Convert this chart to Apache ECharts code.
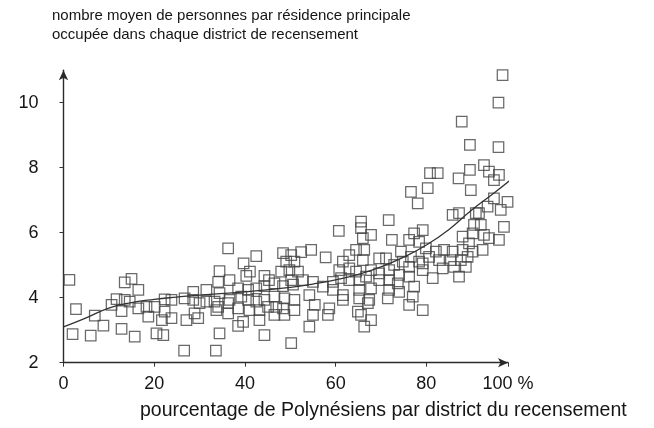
<!DOCTYPE html>
<html><head><meta charset="utf-8">
<script src="https://cdn.jsdelivr.net/npm/echarts@6/dist/echarts.min.js"></script>
<style>html,body{margin:0;padding:0;background:#fff}#c{width:654px;height:428px}</style>
</head><body><div id="c"></div>
<script>
// percentage of Polynesians per census district
const pctPolynesian = [
 1.3,2.75,2.0,6.0,6.9,8.8,10.6,11.7,12.8,12.8,13.5,15.0,16.5,14.6,15.7,16.5,18.3,18.7,20.1,20.5,22.0,22.3,22.3,23.8,23.8,21.7,13.5,26.6,
 36.3,42.5,39.7,41.1,34.4,40.3,44.3,45.3,48.4,50.2,49.1,50.9,48.0,49.8,51.7,50.2,34.4,44.3,50.2,33.6,28.6,31.5,26.7,28.6,30.0,31.5,33.3,34.1,36.3,36.6,34.1,38.5,40.7,42.5,44.3,46.5,34.4,36.6,39.2,40.7,42.5,44.3,46.5,48.7,50.9,28.9,33.7,36.3,38.5,41.0,43.2,45.1,46.9,48.4,50.9,27.1,29.7,39.6,43.2,46.5,48.7,38.5,48.4,50.6,
 52.4,54.6,57.8,76.6,78.1,60.7,65.6,65.6,71.7,67.8,66.0,72.4,61.6,63.0,64.5,66.3,66.0,69.6,71.1,74.4,76.2,77.3,76.6,74.8,72.9,76.2,60.8,63.0,64.5,67.8,69.6,71.8,74.0,76.2,59.4,61.2,63.0,65.2,66.7,69.6,71.8,73.7,77.3,52.8,55.0,57.2,59.4,61.6,65.2,67.8,71.8,74.0,77.0,54.2,55.4,58.6,61.6,65.2,67.4,71.5,76.2,55.0,58.3,64.9,65.6,67.8,67.1,66.3,54.2,78.4,79.2,78.4,
 80.3,96.8,95.9,87.8,89.6,95.9,80.8,82.5,87.1,89.6,89.8,92.7,93.8,96.0,94.9,97.9,96.4,93.5,94.9,90.9,87.2,85.8,90.5,92.0,92.7,90.2,97.1,96.0,93.8,88.0,89.4,88.0,85.8,83.9,82.1,79.9,80.6,82.8,85.4,87.6,89.1,90.2,92.4,86.1,88.7,87.2,83.6,81.4,79.2,79.2,79.2,91.6
];
// average number of persons per occupied main residence
const personsPerHome = [
 4.55,3.65,2.88,2.83,3.45,3.14,3.78,3.96,3.59,3.04,4.47,4.58,4.24,3.88,2.8,3.67,3.72,3.42,3.72,2.9,2.85,3.95,3.57,3.93,3.37,3.31,3.93,2.37,
 5.52,5.28,5.06,4.8,4.82,4.67,4.67,4.54,5.37,5.31,5.11,5.11,4.8,4.85,4.8,4.54,2.9,2.85,2.6,2.37,4.18,4.24,3.98,3.93,3.83,3.88,3.88,3.72,3.83,4.54,4.49,4.29,4.24,4.29,4.36,4.44,4.14,3.93,4.03,3.93,3.88,3.93,4.03,3.98,3.93,3.52,3.62,3.52,3.67,3.62,3.62,3.72,3.72,3.67,3.62,3.31,3.37,3.26,3.31,3.47,3.47,3.13,4.36,4.4,
 5.4,5.47,5.24,7.26,6.9,6.06,6.34,6.14,6.39,5.93,5.83,5.78,5.11,5.31,5.47,5.47,5.16,5.21,5.21,5.42,5.78,5.98,5.26,5.11,5.01,4.95,4.85,4.9,4.8,4.85,4.75,4.85,4.7,4.65,4.49,4.6,4.54,4.54,4.65,4.54,4.54,4.44,4.34,4.54,4.49,4.34,4.24,4.08,4.24,4.29,4.24,4.18,4.03,4.08,3.78,3.67,3.93,3.98,3.93,3.98,3.78,3.47,3.47,3.57,3.47,3.31,3.83,3.11,3.11,5.72,6.08,5.11,
 7.37,10.85,10.0,9.42,8.7,8.63,7.83,7.83,7.67,7.93,7.31,8.08,7.88,7.78,7.62,6.95,6.7,6.8,7.06,6.6,6.6,6.55,6.24,6.24,5.93,5.98,6.18,5.78,5.83,5.88,5.67,5.47,5.42,5.47,5.42,5.52,5.26,5.16,5.16,5.16,5.26,5.42,5.47,4.95,4.95,4.65,4.9,4.6,5.06,4.85,3.62,6.6
];
// fitted trend curve
const trendX = [0,5,10,15,20,25,30,40,50,55,60,65,70,75,80,85,90,95,98.5];
const trendY = [3.1,3.38,3.68,3.85,3.95,4.02,4.08,4.18,4.32,4.42,4.55,4.72,4.95,5.25,5.62,6.1,6.7,7.23,7.62];
const xTicks = [0,20,40,60,80,100];
const yTicks = [2,4,6,8,10];

const points = pctPolynesian.map((x,i)=>[x, personsPerHome[i]]);
const trend = trendX.map((x,i)=>[x, trendY[i]]);
const FONT = 'Liberation Sans, Arial, sans-serif';
const chart = echarts.init(document.getElementById('c'), null, {renderer:'canvas'});
chart.setOption({
  backgroundColor:'#ffffff',
  animation:false,
  title:[
    {text:'nombre moyen de personnes par résidence principale\noccupée dans chaque district de recensement',
     left:47, top:1, textStyle:{fontFamily:FONT, fontSize:15, fontWeight:'normal', color:'#151515', lineHeight:19}},
    {text:'pourcentage de Polynésiens par district du recensement',
     left:135, top:396, textStyle:{fontFamily:FONT, fontSize:19.5, fontWeight:'normal', color:'#151515'}}
  ],
  grid:{left:63.5, top:70.2, right:146, bottom:65.3, containLabel:false},
  xAxis:{type:'value', min:0, max:98, interval:20,
    axisLine:{show:true, lineStyle:{color:'#2a2a2a', width:1.4}, symbol:['none','arrow'], symbolSize:[7,10]},
    axisTick:{show:true, length:4, lineStyle:{color:'#333'}},
    splitLine:{show:false},
    axisLabel:{margin:12, fontFamily:FONT, fontSize:18, color:'#151515',
      formatter:v=> v===98 ? '100 %' : (xTicks.indexOf(v)>=0 ? String(v) : '')}
  },
  yAxis:{type:'value', min:2, max:11, interval:2,
    axisLine:{show:true, lineStyle:{color:'#2a2a2a', width:1.4}, symbol:['none','arrow'], symbolSize:[7,10]},
    axisTick:{show:true, length:4, lineStyle:{color:'#333'}},
    splitLine:{show:false},
    axisLabel:{margin:25, fontFamily:FONT, fontSize:18, color:'#151515', showMaxLabel:false,
      formatter:v=> yTicks.indexOf(v)>=0 ? String(v) : ''}
  },
  series:[
    {type:'scatter', data:points, symbol:'rect', symbolSize:10.5,
     itemStyle:{color:'rgba(255,255,255,0)', borderColor:'#444', borderWidth:1.25}, z:2},
    {type:'line', data:trend, smooth:true, showSymbol:false,
     lineStyle:{color:'#333', width:1.3}, z:3}
  ]
});
</script></body></html>
